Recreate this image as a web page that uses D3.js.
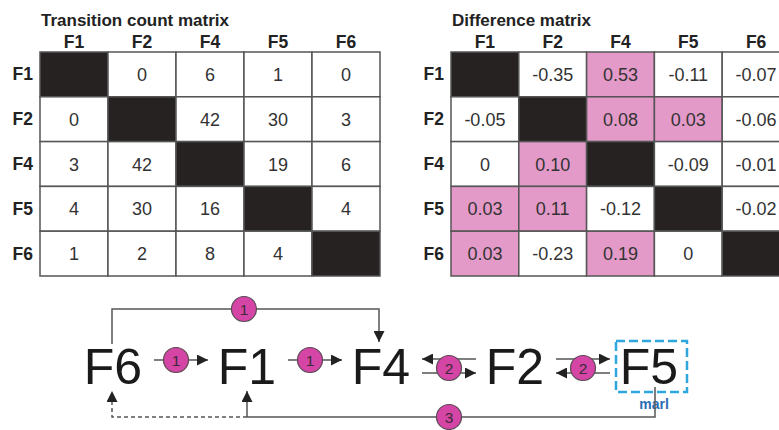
<!DOCTYPE html>
<html>
<head>
<meta charset="utf-8">
<script src="https://cdn.jsdelivr.net/npm/d3@7"></script>
<style>
  body { margin: 0; background: #fff; }
  svg { font-family: "Liberation Sans", Arial, sans-serif; }
</style>
</head>
<body>
<svg id="chart" width="779" height="430"></svg>
<script>
// matrix rows / columns
var categories = ["F1", "F2", "F4", "F5", "F6"];

// transition counts (row -> column), null on the diagonal
var countValues = [
	[null, 0, 6, 1, 0],
	[0, null, 42, 30, 3],
	[3, 42, null, 19, 6],
	[4, 30, 16, null, 4],
	[1, 2, 8, 4, null]
];

// observed minus expected
var diffValues = [
	[null, -0.35, 0.53, -0.11, -0.07],
	[-0.05, null, 0.08, 0.03, -0.06],
	[0, 0.10, null, -0.09, -0.01],
	[0.03, 0.11, -0.12, null, -0.02],
	[0.03, -0.23, 0.19, 0, null]
];

// facies sequence of the summary diagram
var diagramNodes = ["F6", "F1", "F4", "F2", "F5"];
var adjacentEdges = [
	{from: "F6", to: "F1", label: "1", both: false},
	{from: "F1", to: "F4", label: "1", both: false},
	{from: "F4", to: "F2", label: "2", both: true},
	{from: "F2", to: "F5", label: "2", both: true}
];
var topEdge = {from: "F6", to: "F4", label: "1"};
var bottomEdge = {from: "F5", to: ["F1", "F6"], label: "3"};

var svg = d3.select("#chart");
var lineCol = "#555";
// plain hyphen for negatives, like the original figure
var loc = d3.formatLocale({decimal: ".", thousands: ",", grouping: [3], currency: ["", ""], minus: "-"});

var defs = svg.append("defs");
defs.append("marker")
	.attr("id", "head")
	.attr("viewBox", "0 0 10 10")
	.attr("refX", 10).attr("refY", 5)
	.attr("markerWidth", 11).attr("markerHeight", 11)
	.attr("markerUnits", "userSpaceOnUse")
	.attr("orient", "auto-start-reverse")
	.append("path")
	.attr("d", "M0,0 L10,5 L0,10 Z")
	.attr("fill", "#222");

var y = d3.scaleBand().domain(categories).range([52, 276]);

function drawMatrix(left, right, title, values, fmt, fillFn){
	var x = d3.scaleBand().domain(categories).range([left, right]);
	var g = svg.append("g");

	g.append("text")
		.text(title)
		.attr("x", left + 1).attr("y", 26)
		.attr("font-size", 17).attr("font-weight", "bold").attr("fill", "#222");

	g.selectAll("text.col").data(categories).enter().append("text")
		.attr("class", "col")
		.text(function(d){ return d; })
		.attr("x", function(d){ return x(d) + x.bandwidth()/2; })
		.attr("y", 48)
		.attr("text-anchor", "middle")
		.attr("font-size", 17.5).attr("font-weight", "bold").attr("fill", "#222");

	g.selectAll("text.row").data(categories).enter().append("text")
		.attr("class", "row")
		.text(function(d){ return d; })
		.attr("x", left - 7)
		.attr("y", function(d){ return y(d) + y.bandwidth()/2 + 6; })
		.attr("text-anchor", "end")
		.attr("font-size", 17.5).attr("font-weight", "bold").attr("fill", "#222");

	var cells = [];
	values.forEach(function(row, i){
		row.forEach(function(v, j){
			cells.push({r: categories[i], c: categories[j], v: v});
		});
	});

	var cell = g.selectAll("g.cell").data(cells).enter().append("g").attr("class", "cell");
	cell.append("rect")
		.attr("x", function(d){ return x(d.c); })
		.attr("y", function(d){ return y(d.r); })
		.attr("width", x.bandwidth())
		.attr("height", y.bandwidth())
		.attr("fill", function(d){ return d.v === null ? "#262222" : fillFn(d.v); })
		.attr("stroke", lineCol)
		.attr("stroke-width", 1.5);
	cell.filter(function(d){ return d.v !== null; }).append("text")
		.text(function(d){ return fmt(d.v); })
		.attr("x", function(d){ return x(d.c) + x.bandwidth()/2; })
		.attr("y", function(d){ return y(d.r) + y.bandwidth()/2 + 6.5; })
		.attr("text-anchor", "middle")
		.attr("font-size", 18).attr("fill", "#333");
}

drawMatrix(40, 380, "Transition count matrix", countValues, loc.format("d"), function(){ return "#fff"; });

var f2 = loc.format(".2f");
drawMatrix(451, 790, "Difference matrix", diffValues,
	function(v){ return v === 0 ? "0" : f2(v); },
	function(v){ return v > 0 ? "#e39ac8" : "#fff"; });

// ---- summary diagram ----
var nx = d3.scalePoint().domain(diagramNodes).range([113, 649]);
var baseY = 384;
var d = svg.append("g");

function badge(cx, cy, label){
	d.append("circle").attr("cx", cx).attr("cy", cy).attr("r", 12.5)
		.attr("fill", "#d445a6").attr("stroke", "#5a4a55").attr("stroke-width", 1.2);
	d.append("text").text(label).attr("x", cx).attr("y", cy + 5.5)
		.attr("text-anchor", "middle").attr("font-size", 15.5).attr("fill", "#3a2a35");
}

function line(pts, dashed){
	return d.append("path")
		.attr("d", d3.line()(pts))
		.attr("fill", "none").attr("stroke", lineCol).attr("stroke-width", 1.5)
		.attr("stroke-dasharray", dashed ? "4,3" : null);
}

d.selectAll("text.node").data(diagramNodes).enter().append("text")
	.attr("class", "node")
	.text(function(n){ return n; })
	.attr("x", function(n){ return nx(n); })
	.attr("y", baseY)
	.attr("text-anchor", "middle")
	.attr("font-size", 50).attr("fill", "#1a1a1a");

adjacentEdges.forEach(function(e){
	var mid = (nx(e.from) + nx(e.to)) / 2 + 1;
	var x0 = mid - 27, x1 = mid + 27;
	if(!e.both){
		line([[x0, 360], [x1, 360]]).attr("marker-end", "url(#head)");
		badge(mid - 5, 360, e.label);
	} else {
		// the first pair points back at the left node on top, the second points forward on top
		var forwardTop = e.from === "F2";
		var top = line([[x0, 359], [x1, 359]]);
		var bot = line([[x0, 373], [x1, 373]]);
		if(forwardTop){
			top.attr("marker-end", "url(#head)");
			bot.attr("marker-start", "url(#head)");
		} else {
			top.attr("marker-start", "url(#head)");
			bot.attr("marker-end", "url(#head)");
		}
		badge(mid, 368, e.label);
	}
});

// F6 over the top to F4
var tA = nx(topEdge.from) - 1, tB = nx(topEdge.to) - 2;
line([[tA, 344], [tA, 309], [tB, 309], [tB, 342]]).attr("marker-end", "url(#head)");
badge(244, 309, topEdge.label);

// marl box around F5
var f5 = nx(bottomEdge.from) + 2;
d.append("rect")
	.attr("x", f5 - 35).attr("y", 341).attr("width", 71).attr("height", 51)
	.attr("fill", "none").attr("stroke", "#2fa6de").attr("stroke-width", 2.5)
	.attr("stroke-dasharray", "9,4");
d.append("text").text("marl")
	.attr("x", f5 + 3).attr("y", 409)
	.attr("text-anchor", "middle").attr("font-size", 14).attr("font-weight", "bold")
	.attr("fill", "#2a6db4");

// F5 back along the bottom to F1 (solid) and F6 (dashed)
var bF1 = nx(bottomEdge.to[0]), bF6 = nx(bottomEdge.to[1]) - 1;
line([[f5 + 4, 387], [f5 + 4, 417], [bF1, 417]]);
line([[bF1, 417], [bF1, 391]]).attr("marker-end", "url(#head)");
line([[bF1, 417], [bF6, 417], [bF6, 391]], true).attr("marker-end", "url(#head)");
badge(449, 417, bottomEdge.label);
</script>
</body>
</html>
